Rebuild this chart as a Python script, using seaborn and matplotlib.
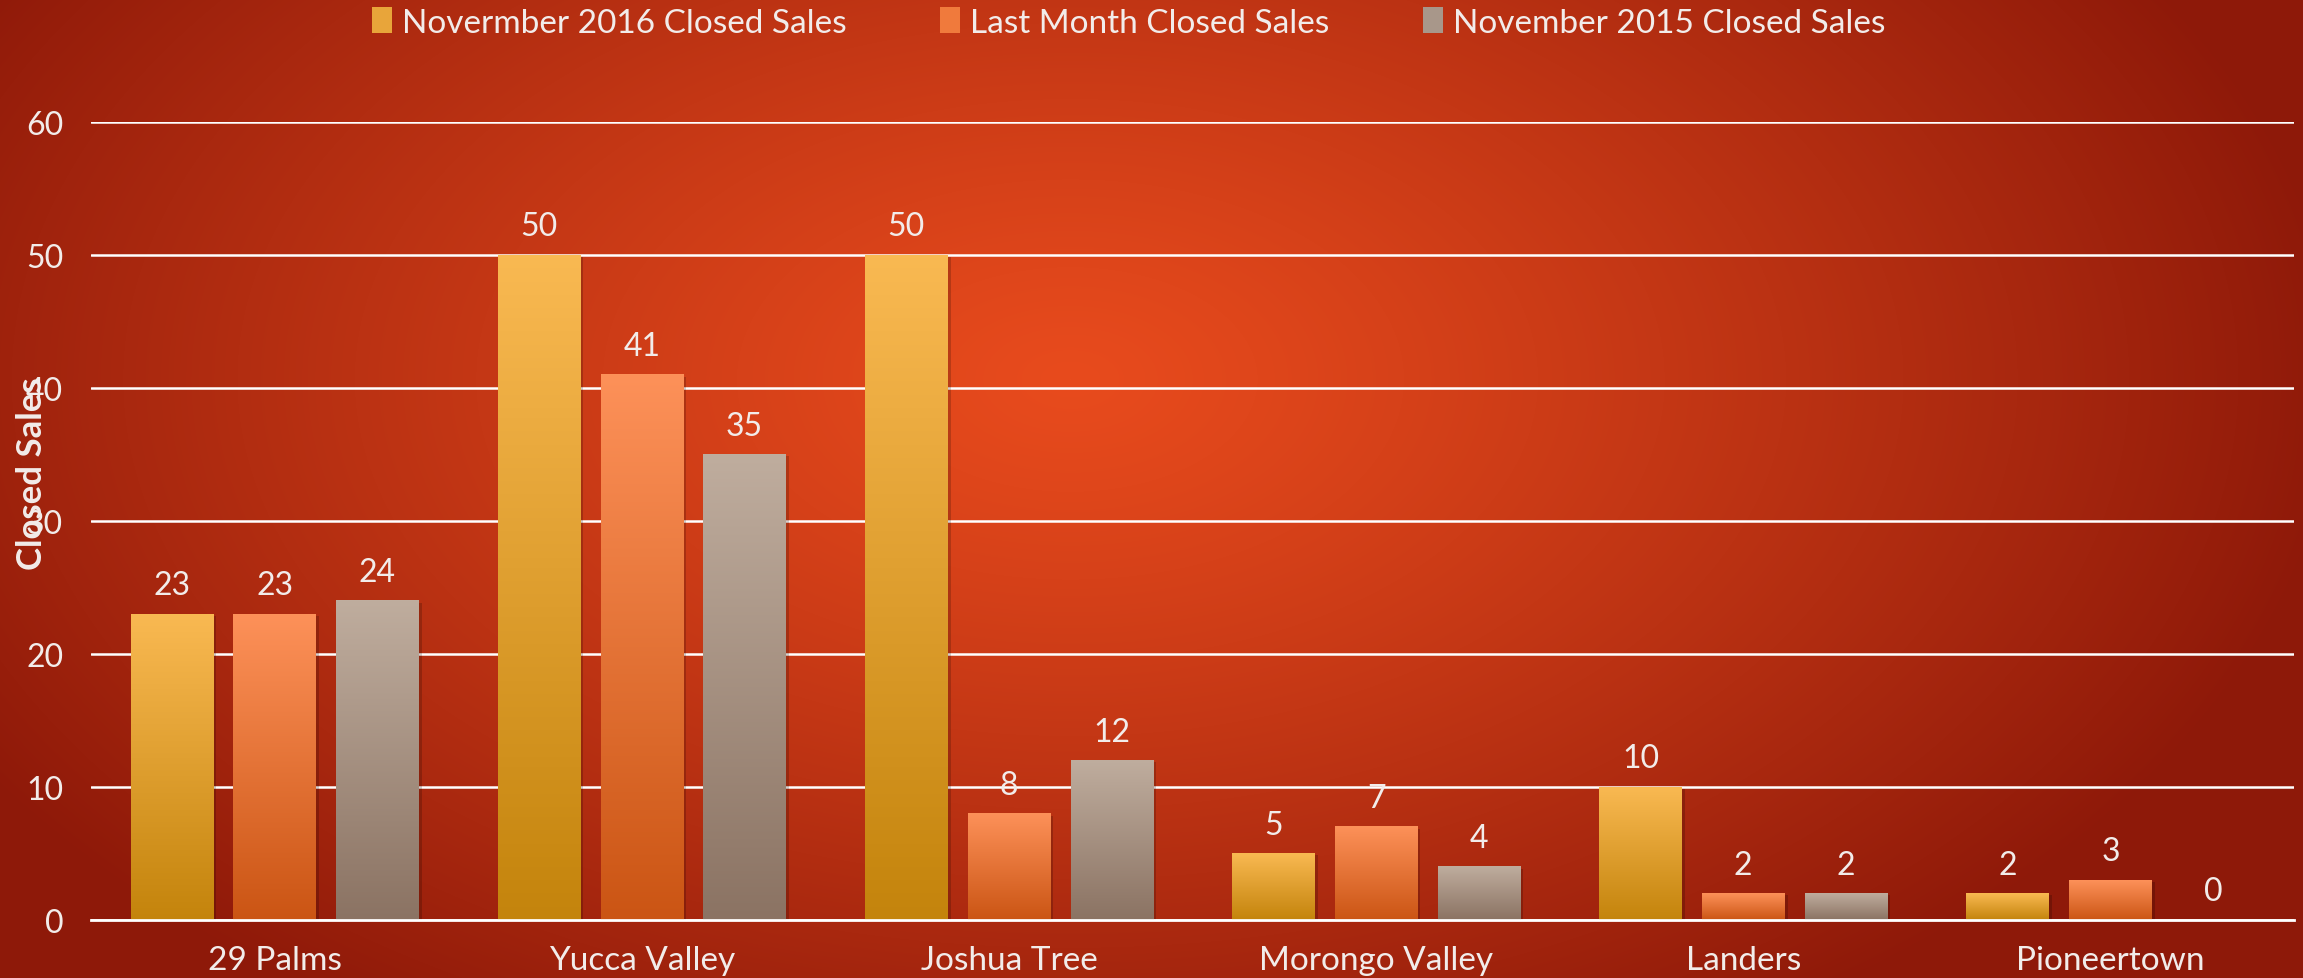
import numpy as np
import pandas as pd
import matplotlib
matplotlib.use('Agg')
import seaborn as sns
import matplotlib.pyplot as plt
from matplotlib.patches import Patch, Rectangle
from matplotlib.colors import to_rgb

# data
areas = ['29 Palms', 'Yucca Valley', 'Joshua Tree', 'Morongo Valley', 'Landers', 'Pioneertown']
series = ['Novermber 2016 Closed Sales', 'Last Month Closed Sales', 'November 2015 Closed Sales']
nov_2016 = [23, 50, 50, 5, 10, 2]
last_month = [23, 41, 8, 7, 2, 3]
nov_2015 = [24, 35, 12, 4, 2, 0]

# gradient colours per series (top, bottom)
grad_colors = [('#F9B952', '#C4840C'), ('#FD9159', '#CB5514'), ('#BFAD9E', '#8B7363')]
legend_colors = ['#E8A53A', '#F07A3C', '#A8978A']

df = pd.DataFrame({
    'area': areas * 3,
    'series': [series[0]] * 6 + [series[1]] * 6 + [series[2]] * 6,
    'sales': nov_2016 + last_month + nov_2015,
})

sns.set_style('white')
plt.rcParams['font.family'] = ['Lato', 'DejaVu Sans']
txt = '#F2ECEA'

W, H = 2303, 979
fig = plt.figure(figsize=(W / 100, H / 100), dpi=100)

# radial background
yy, xx = np.mgrid[0:H, 0:W]
d = np.sqrt(((xx - 1070) / 1500.0) ** 2 + ((yy - 380) / 900.0) ** 2)
d = np.clip(d / 0.85, 0, 1) ** 1.2
c_in = np.array(to_rgb('#E84B1D'))
c_out = np.array(to_rgb('#8E1909'))
bg = c_in[None, None, :] * (1 - d[..., None]) + c_out[None, None, :] * d[..., None]
bg_ax = fig.add_axes([0, 0, 1, 1], zorder=-10)
bg_ax.imshow(bg, aspect='auto', extent=[0, 1, 0, 1])
bg_ax.axis('off')

x0, x1, y0, y1 = 91, 2294, 921, 123
ax = fig.add_axes([x0 / W, (H - y0) / H, (x1 - x0) / W, (y0 - y1) / H])
ax.set_facecolor('none')

sns.barplot(data=df, x='area', y='sales', hue='series', width=0.84, gap=0.2,
            palette=legend_colors, ax=ax, legend=False)
ax.set_ylim(0, 60)
ax.set_xlim(-0.5, 5.5)

for i, cont in enumerate(ax.containers):
    top, bot = np.array(to_rgb(grad_colors[i][0])), np.array(to_rgb(grad_colors[i][1]))
    t = np.linspace(0, 1, 200)[:, None]
    grad = (top * (1 - t) + bot * t)[:, None, :]
    for bar in cont:
        bx, bw, bh = bar.get_x(), bar.get_width(), bar.get_height()
        bar.set_facecolor('none')
        bar.set_edgecolor('none')
        if bh <= 0:
            continue
        ax.add_patch(Rectangle((bx + bw * 0.04, 0), bw, bh - 0.15, color='black',
                               alpha=0.18, zorder=1.5, lw=0))
        ax.imshow(grad, extent=[bx, bx + bw, 0, bh], aspect='auto', zorder=2)
    ax.bar_label(cont, padding=10, fontsize=23, color=txt)

ax.set_aspect('auto')
ax.set_ylim(0, 60)
ax.set_xlim(-0.5, 5.5)
ax.set_yticks(range(0, 61, 10))
ax.yaxis.grid(True, color='white', lw=1.8)
ax.set_axisbelow(True)
for s in ['top', 'right', 'left']:
    ax.spines[s].set_visible(False)
ax.spines['bottom'].set_color('white')
ax.spines['bottom'].set_linewidth(2)
ax.spines['bottom'].set_zorder(3)
ax.tick_params(axis='y', length=0, pad=20, labelsize=23, labelcolor=txt)
ax.tick_params(axis='x', length=0, pad=18, labelsize=24, labelcolor=txt)
ax.set_xlabel('')
# the reference draws the axis title right over the tick labels
ax.set_ylabel('Closed Sales', fontsize=25, fontweight='bold', color=txt)
ax.yaxis.set_label_coords(-0.0195, 0.56)

handles = [Patch(facecolor=c, edgecolor='none') for c in legend_colors]
fig.legend(handles, series, loc='upper center', bbox_to_anchor=(0.49, 1.022), ncol=3,
           frameon=False, fontsize=24, handlelength=0.6, handleheight=0.8,
           handletextpad=0.3, columnspacing=2.8, labelcolor=txt)

fig.savefig('out.png', dpi=100)
